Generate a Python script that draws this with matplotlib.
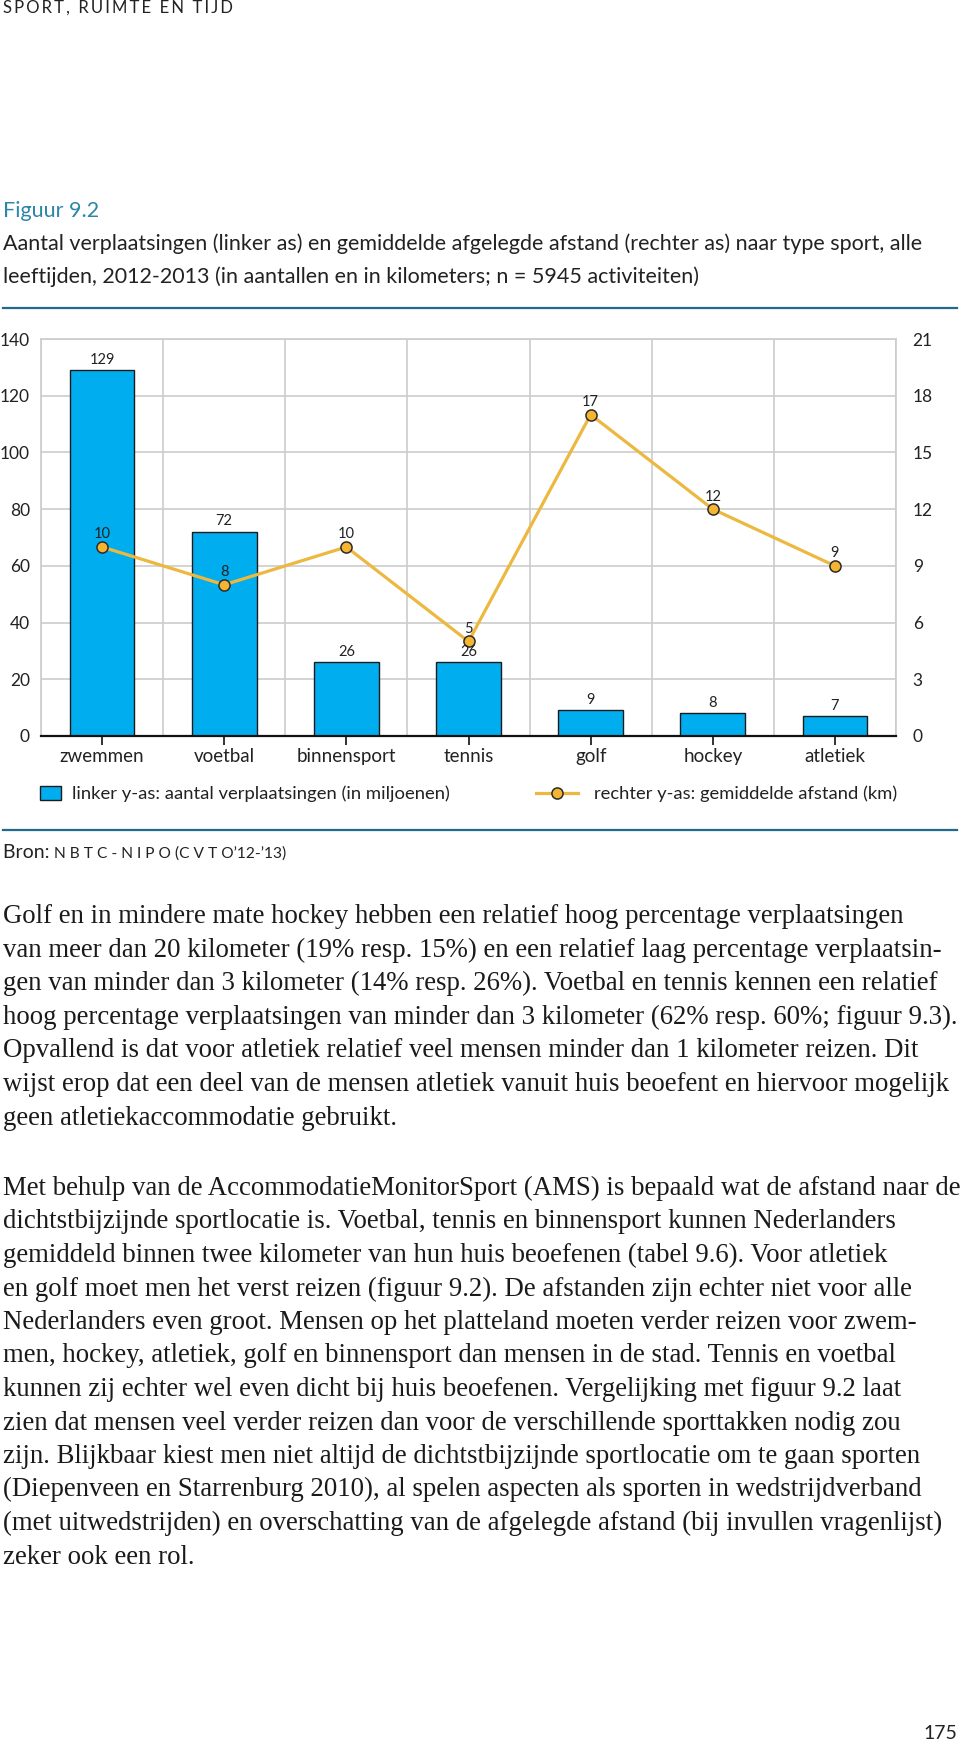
import matplotlib
matplotlib.use('Agg')
import matplotlib.pyplot as plt
from matplotlib.patches import Patch
from matplotlib.lines import Line2D
import numpy as np

plt.rcParams['font.family'] = ['Lato', 'DejaVu Sans']

# data
sports = ['zwemmen', 'voetbal', 'binnensport', 'tennis', 'golf', 'hockey', 'atletiek']
trips = [129, 72, 26, 26, 9, 8, 7]        # verplaatsingen (miljoenen), linker as
distance = [10, 8, 10, 5, 17, 12, 9]      # gemiddelde afstand (km), rechter as
left_ticks = [0, 20, 40, 60, 80, 100, 120, 140]
right_ticks = [0, 3, 6, 9, 12, 15, 18, 21]

T = '\u2009'  # thin space for the letter-spaced caps
T2 = T * 2
header = T.join('SPORT,') + '  ' + T.join('RUIMTE') + '  ' + T.join('EN') + '  ' + T.join('TIJD')
fig_label = 'Figuur 9.2'
title_lines = [
    'Aantal verplaatsingen (linker as) en gemiddelde afgelegde afstand (rechter as) naar type sport, alle',
    'leeftijden, 2012-2013 (in aantallen en in kilometers; n = 5945 activiteiten)',
]
bar_legend = 'linker y-as: aantal verplaatsingen (in miljoenen)'
line_legend = 'rechter y-as: gemiddelde afstand (km)'
source_caps = T2.join('NBTC-NIPO') + ' (' + T2.join('CVTO') + '’12-’13)'

para1 = [
    'Golf en in mindere mate hockey hebben een relatief hoog percentage verplaatsingen',
    'van meer dan 20 kilometer (19% resp. 15%) en een relatief laag percentage verplaatsin-',
    'gen van minder dan 3 kilometer (14% resp. 26%). Voetbal en tennis kennen een relatief',
    'hoog percentage verplaatsingen van minder dan 3 kilometer (62% resp. 60%; figuur 9.3).',
    'Opvallend is dat voor atletiek relatief veel mensen minder dan 1 kilometer reizen. Dit',
    'wijst erop dat een deel van de mensen atletiek vanuit huis beoefent en hiervoor mogelijk',
    'geen atletiekaccommodatie gebruikt.',
]
para2 = [
    'Met behulp van de AccommodatieMonitorSport (AMS) is bepaald wat de afstand naar de',
    'dichtstbijzijnde sportlocatie is. Voetbal, tennis en binnensport kunnen Nederlanders',
    'gemiddeld binnen twee kilometer van hun huis beoefenen (tabel 9.6). Voor atletiek',
    'en golf moet men het verst reizen (figuur 9.2). De afstanden zijn echter niet voor alle',
    'Nederlanders even groot. Mensen op het platteland moeten verder reizen voor zwem-',
    'men, hockey, atletiek, golf en binnensport dan mensen in de stad. Tennis en voetbal',
    'kunnen zij echter wel even dicht bij huis beoefenen. Vergelijking met figuur 9.2 laat',
    'zien dat mensen veel verder reizen dan voor de verschillende sporttakken nodig zou',
    'zijn. Blijkbaar kiest men niet altijd de dichtstbijzijnde sportlocatie om te gaan sporten',
    '(Diepenveen en Starrenburg 2010), al spelen aspecten als sporten in wedstrijdverband',
    '(met uitwedstrijden) en overschatting van de afgelegde afstand (bij invullen vragenlijst)',
    'zeker ook een rol.',
]

W, H = 960, 1745
BLUE = '#00AEEF'
GOLD = '#EDB83F'
GRID = '#cccccc'
RULE = '#1f6a8d'
TEXT = '#222222'


def fx(px):
    return px / W


def fy(py):
    return 1 - py / H


fig = plt.figure(figsize=(W / 100, H / 100), dpi=100)

# page header and caption
fig.text(fx(3), fy(13), header, fontsize=12, color=TEXT, va='baseline')
fig.text(fx(3), fy(217), fig_label, fontsize=15.5, color='#2b86a8', va='baseline')
for i, line in enumerate(title_lines):
    fig.text(fx(3), fy(250 + 33 * i), line, fontsize=15.5, color=TEXT, va='baseline')
fig.add_artist(Line2D([fx(3), fx(957)], [fy(308), fy(308)], color=RULE, lw=1.6))

# chart
ax = fig.add_axes([fx(41), fy(736), fx(896) - fx(41), 397 / H])
x = np.arange(len(sports))
ax.bar(x, trips, width=0.53, color=BLUE, edgecolor='#1a1a1a', linewidth=1, zorder=3)
ax.set_xlim(-0.5, len(sports) - 0.5)
ax.set_ylim(0, 140)
ax.set_yticks(left_ticks)
ax.set_xticks(x)
ax.set_xticklabels(sports)
ax.set_xticks(np.arange(-0.5, len(sports), 1), minor=True)
ax.set_axisbelow(True)
ax.yaxis.grid(True, color=GRID, lw=1.2)
ax.xaxis.grid(True, which='minor', color=GRID, lw=1.2)
for s in ['top', 'left', 'right']:
    ax.spines[s].set_color(GRID)
    ax.spines[s].set_linewidth(1.2)
ax.spines['bottom'].set_color('#111111')
ax.spines['bottom'].set_linewidth(1.6)
ax.spines['bottom'].set_zorder(4)
ax.tick_params(axis='y', length=0, pad=8, labelsize=12.5, labelcolor=TEXT)
ax.tick_params(axis='x', which='major', length=6.5, width=1.2, color='#111111',
               pad=2, labelsize=13.5, labelcolor=TEXT)
ax.tick_params(axis='x', which='minor', length=0)

ax2 = ax.twinx()
ax2.set_ylim(0, 21)
ax2.set_yticks(right_ticks)
ax2.tick_params(axis='y', length=0, pad=12, labelsize=12.5, labelcolor=TEXT)
for s in ax2.spines.values():
    s.set_visible(False)
ax2.plot(x, distance, color=GOLD, lw=2.3, marker='o', ms=8, mfc='#f6b531',
         mec='#2b2b2b', mew=1.1, zorder=4)
for i, v in enumerate(distance):
    ax2.annotate(str(v), (i, v), xytext=(0, 9), textcoords='offset points',
                 ha='center', va='center', fontsize=10.5, color=TEXT, zorder=5)

# bar values: placed in bar coordinates but drawn on the upper axes, above the line
for i, v in enumerate(trips):
    ax2.annotate(str(v), (i, v), xycoords=ax.transData, xytext=(0, 7.5),
                 textcoords='offset points', ha='center', va='center',
                 fontsize=10.5, color=TEXT, zorder=5)

# legends
fig.legend(handles=[Patch(facecolor=BLUE, edgecolor='#1a1a1a', lw=1)],
           labels=[bar_legend], loc='center left',
           bbox_to_anchor=(fx(40), fy(794)), frameon=False, fontsize=13.3,
           handlelength=1.15, handleheight=0.8, handletextpad=0.6,
           borderpad=0, borderaxespad=0, labelcolor=TEXT)
fig.legend(handles=[Line2D([0], [0], color=GOLD, lw=2.3, marker='o', ms=8,
                           mfc='#f6b531', mec='#2b2b2b', mew=1.1)],
           labels=[line_legend], loc='center left',
           bbox_to_anchor=(fx(536), fy(794)), frameon=False, fontsize=13.2,
           handlelength=2.3, handletextpad=0.85, borderpad=0, borderaxespad=0,
           labelcolor=TEXT)

fig.add_artist(Line2D([fx(3), fx(957)], [fy(830), fy(830)], color=RULE, lw=1.6))

# source line, small caps part placed after "Bron:"
src = fig.text(fx(3), fy(858), 'Bron: ', fontsize=14, color=TEXT, va='baseline')
fig.canvas.draw()
bb = src.get_window_extent()
fig.text(bb.x1 / W, fy(858), source_caps, fontsize=11.2, color=TEXT, va='baseline')

# body text
for i, line in enumerate(para1):
    fig.text(fx(3), fy(923 + 33.6 * i), line, family='Liberation Serif',
             fontsize=19.3, color='#1a1a1a', va='baseline')
for i, line in enumerate(para2):
    fig.text(fx(3), fy(1195 + 33.5 * i), line, family='Liberation Serif',
             fontsize=19.3, color='#1a1a1a', va='baseline')

fig.text(fx(957), fy(1739), '175', fontsize=14, color=TEXT, ha='right', va='baseline')

fig.savefig('out.png', dpi=100)
